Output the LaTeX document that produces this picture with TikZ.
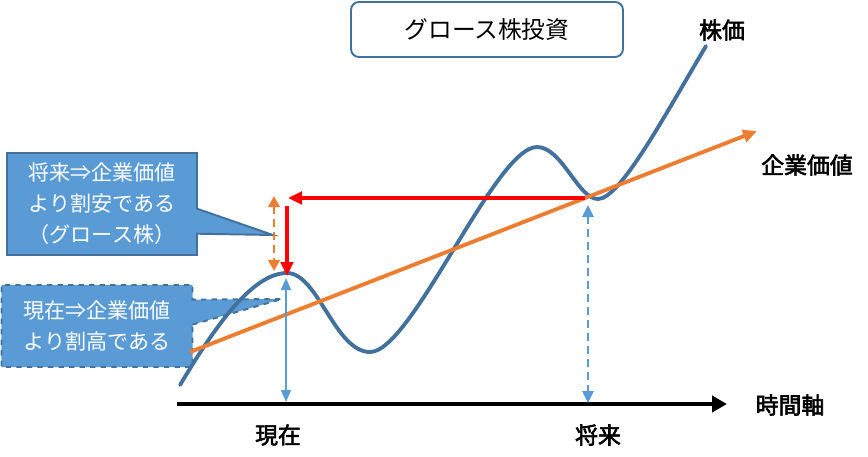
\documentclass[tikz,border=0pt]{standalone}
\usepackage{fontspec}
\setmainfont{Noto Sans CJK JP}[AutoFakeBold=2.5]
\usetikzlibrary{arrows.meta,shapes.callouts}
\definecolor{curveblue}{HTML}{41719C}
\definecolor{lightblue}{HTML}{5B9BD5}
\definecolor{valorange}{HTML}{ED7D31}

\begin{document}
\begin{tikzpicture}[x=0.2mm,y=-0.2mm,
  lbl/.style={font=\fontsize{13}{15}\selectfont\bfseries},
  note/.style={rectangle callout,draw=curveblue,line width=1.1pt,fill=lightblue,text=white,align=center,
    font=\fontsize{12}{17.6}\selectfont,callout pointer width=5mm},
  tip/.style={-{Triangle[length=2.8mm,width=2.5mm]}},
  longdash/.style={dash pattern=on 1.6mm off 1mm}]

\useasboundingbox (0,0) rectangle (868,456);

\coordinate (tipA) at (273,235);
\coordinate (tipB) at (282,299);

\node[note,minimum width=38mm,minimum height=20.4mm,callout absolute pointer={(tipA)}] (futnote) at (102,204)
  {将来⇒企業価値\\より割安である\\（グロース株）};
\node[note,dashed,minimum width=38.2mm,minimum height=16.4mm,callout absolute pointer={(tipB)}] (nownote) at (97,326)
  {現在⇒企業価値\\より割高である};

\node[draw=curveblue,line width=1.1pt,rounded corners=1.6mm,minimum width=54.4mm,minimum height=11mm,
  font=\fontsize{13.5}{16}\selectfont] (title) at (487,29.5) {グロース株投資};

\node[lbl] (price) at (722,30) {株価};
\node[lbl] (value) at (807,165) {企業価値};
\node[lbl] (time) at (790,405) {時間軸};
\node[lbl] (now) at (278,435) {現在};
\node[lbl] (future) at (598,435) {将来};

\coordinate (p0) at (180,385);
\coordinate (peakNow) at (287,273);
\coordinate (dipA) at (370,352);
\coordinate (peakB) at (537,147);
\coordinate (dipFut) at (598,199);
\coordinate (pEnd) at (706,46);

\draw[curveblue,line width=2.2pt,line cap=round]
  (p0) .. controls (210,335) and (250,273) .. (peakNow)
  .. controls (318,273) and (335,352) .. (dipA)
  .. controls (412,352) and (495,147) .. (peakB)
  .. controls (562,147) and (578,199) .. (dipFut)
  .. controls (620,199) and (665,115) .. (pEnd);

\coordinate (v0) at (190,352);
\coordinate (v1) at (757,131);
\draw[valorange,line width=2.2pt,tip] (v0) -- (v1);

\coordinate (a0) at (177,404);
\coordinate (a1) at (727,404);
\draw[line width=2.7pt,-{Triangle[length=3mm,width=3.2mm]}] (a0) -- (a1);

\coordinate (r0) at (585,198);
\coordinate (r1) at (288,198);
\coordinate (r2) at (287,206);
\coordinate (r3) at (287,276);
\draw[red,line width=2.2pt,tip] (r0) -- (r1);
\draw[red,line width=2.2pt,tip] (r2) -- (r3);

\coordinate (o0) at (274,196);
\coordinate (o1) at (274,271);
\draw[valorange,line width=1.7pt,longdash,{Triangle[length=2.2mm,width=2.3mm]}-{Triangle[length=2.2mm,width=2.3mm]}] (o0) -- (o1);

\coordinate (b0) at (286,278);
\coordinate (b1) at (286,402);
\draw[lightblue,line width=0.9pt,{Triangle[length=2.4mm,width=2mm]}-{Triangle[length=2.4mm,width=2mm]}] (b0) -- (b1);

\coordinate (f0) at (588,205);
\coordinate (f1) at (588,403);
\draw[lightblue,line width=1.5pt,longdash,{Triangle[length=2.4mm,width=2.2mm]}-{Triangle[length=2.4mm,width=2.2mm]}] (f0) -- (f1);

\end{tikzpicture}
\end{document}
